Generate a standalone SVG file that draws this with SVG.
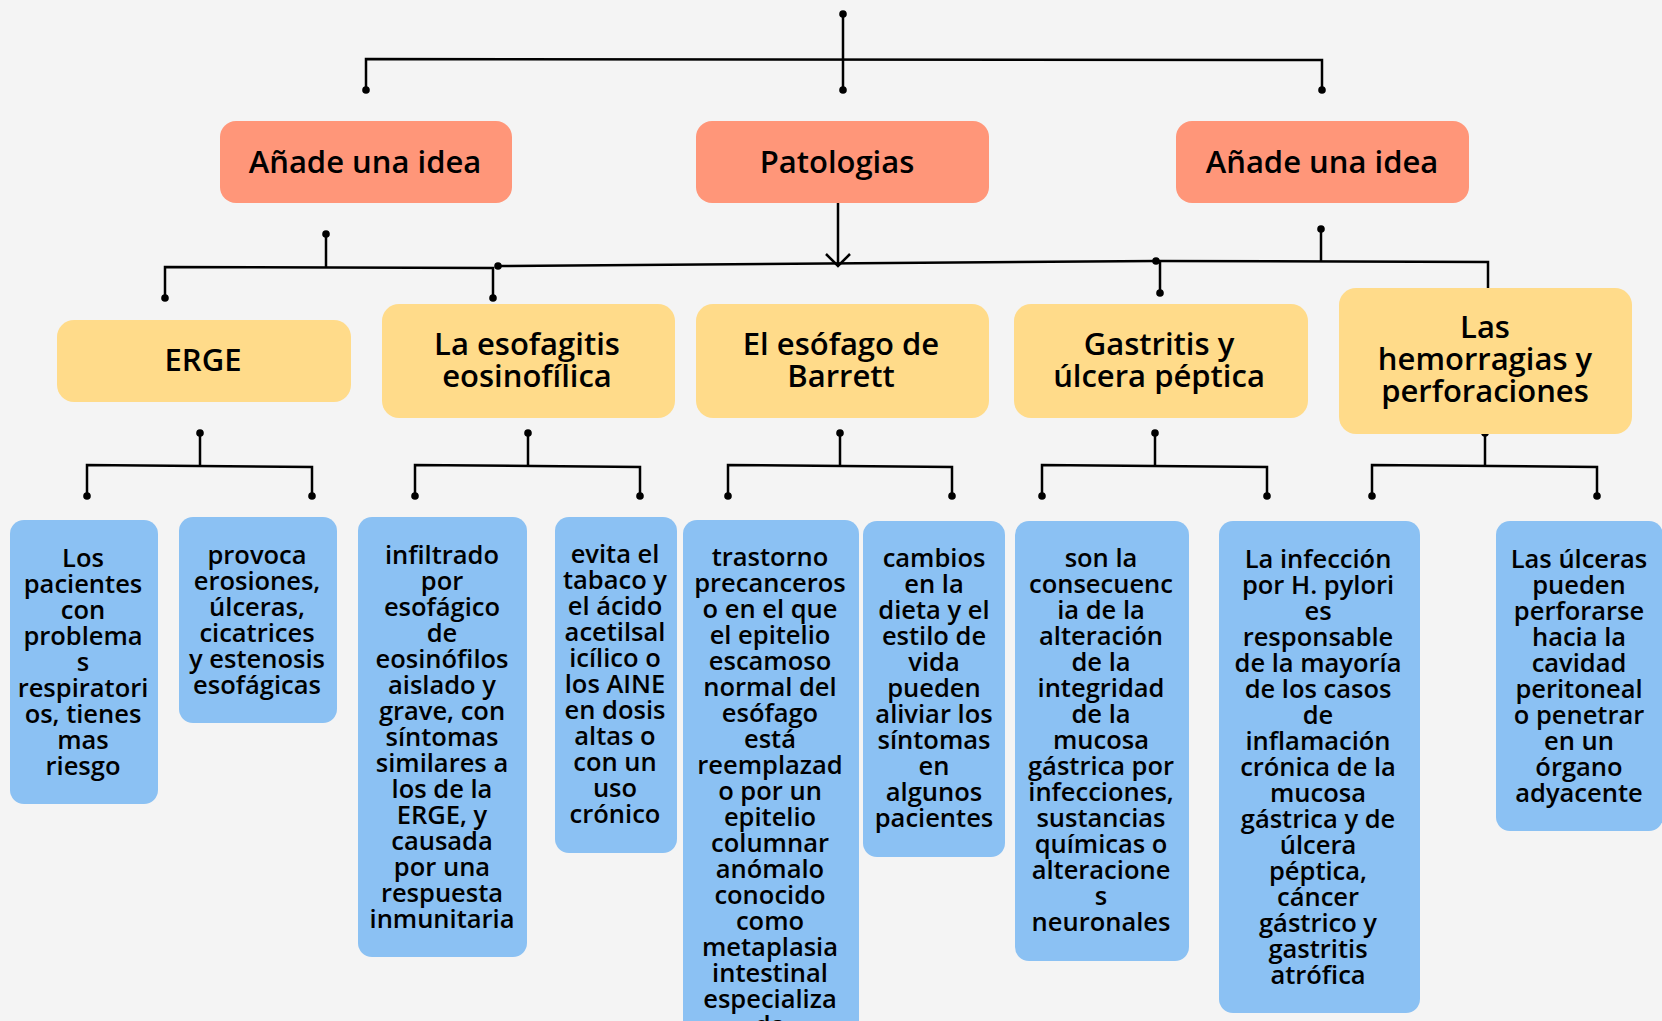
<svg xmlns="http://www.w3.org/2000/svg" width="1662" height="1021" viewBox="0 0 1662 1021">
<style>
.o{fill:#FF9679}
.y{fill:#FFDB8A}
.b{fill:#8BC1F3}
text{font-family:"Open Sans","Noto Sans",sans-serif;font-weight:600;fill:#000;text-anchor:middle}
.t1{font-size:31px}
.t3{font-size:25.5px}
.c{stroke:#000;stroke-width:2.5;fill:none;stroke-linejoin:miter}
.d{fill:#000}
</style>
<rect width="1662" height="1021" fill="#F4F4F4"/>
<g id="connectors">
<path class="c" d="M843,14 V90"/>
<path class="c" d="M366,90 V59 L1322,60 V90"/>
<path class="c" d="M326,234 V267"/>
<path class="c" d="M165,298 V267 L493,268 V298"/>
<path class="c" d="M838,203 V265"/>
<path class="c" d="M826,254 L838,266 L850,254"/>
<path class="c" d="M498,266 L1156,261"/>
<path class="c" d="M1321,229 V262"/>
<path class="c" d="M1156,261 L1488,262 V290"/>
<path class="c" d="M1160,262 V293"/>
<path class="c" d="M200,433 V466"/>
<path class="c" d="M87,496 V465 L312,467 V496"/>
<path class="c" d="M528,433 V466"/>
<path class="c" d="M415,496 V465 L640,467 V496"/>
<path class="c" d="M840,433 V466"/>
<path class="c" d="M728,496 V465 L952,467 V496"/>
<path class="c" d="M1155,433 V466"/>
<path class="c" d="M1042,496 V465 L1267,467 V496"/>
<path class="c" d="M1485,433 V466"/>
<path class="c" d="M1372,496 V465 L1597,467 V496"/>
<g class="d">
<circle cx="843" cy="14" r="3.8"/><circle cx="843" cy="90" r="3.8"/>
<circle cx="366" cy="90" r="3.8"/><circle cx="1322" cy="90" r="3.8"/>
<circle cx="326" cy="234" r="3.8"/><circle cx="165" cy="298" r="3.8"/><circle cx="493" cy="298" r="3.8"/>
<circle cx="498" cy="266" r="3.8"/><circle cx="1156" cy="261" r="3.8"/>
<circle cx="1321" cy="229" r="3.8"/><circle cx="1160" cy="293" r="3.8"/>
<circle cx="200" cy="433" r="3.8"/><circle cx="87" cy="496" r="3.8"/><circle cx="312" cy="496" r="3.8"/>
<circle cx="528" cy="433" r="3.8"/><circle cx="415" cy="496" r="3.8"/><circle cx="640" cy="496" r="3.8"/>
<circle cx="840" cy="433" r="3.8"/><circle cx="728" cy="496" r="3.8"/><circle cx="952" cy="496" r="3.8"/>
<circle cx="1155" cy="433" r="3.8"/><circle cx="1042" cy="496" r="3.8"/><circle cx="1267" cy="496" r="3.8"/>
<circle cx="1485" cy="433" r="3.8"/><circle cx="1372" cy="496" r="3.8"/><circle cx="1597" cy="496" r="3.8"/>
</g>
</g>
<g id="n-idea-left"><rect class="o" x="220" y="121" width="292" height="82" rx="16"/><text class="t1" x="365" y="173">Añade una idea</text></g>
<g id="n-patologias"><rect class="o" x="696" y="121" width="293" height="82" rx="16"/><text class="t1" x="837" y="173">Patologias</text></g>
<g id="n-idea-right"><rect class="o" x="1176" y="121" width="293" height="82" rx="16"/><text class="t1" x="1322" y="173">Añade una idea</text></g>
<g id="n-erge"><rect class="y" x="57" y="320" width="294" height="82" rx="17"/><text class="t1" x="203" y="371">ERGE</text></g>
<g id="n-esofagitis"><rect class="y" x="382" y="304" width="293" height="114" rx="17"/><text class="t1" x="527" y="355">La esofagitis<tspan x="527" dy="32">eosinofílica</tspan></text></g>
<g id="n-barrett"><rect class="y" x="696" y="304" width="293" height="114" rx="17"/><text class="t1" x="841" y="355">El esófago de<tspan x="841" dy="32">Barrett</tspan></text></g>
<g id="n-gastritis"><rect class="y" x="1014" y="304" width="294" height="114" rx="17"/><text class="t1" x="1159" y="355">Gastritis y<tspan x="1159" dy="32">úlcera péptica</tspan></text></g>
<g id="n-hemorragias"><rect class="y" x="1339" y="288" width="293" height="146" rx="17"/><text class="t1" x="1485" y="338">Las<tspan x="1485" dy="32">hemorragias y</tspan><tspan x="1485" dy="32">perforaciones</tspan></text></g>
<g id="n-b1"><rect class="b" x="10" y="520" width="148" height="284" rx="14"/><text class="t3" x="83" y="567">Los<tspan x="83" dy="26">pacientes</tspan><tspan x="83" dy="26">con</tspan><tspan x="83" dy="26">problema</tspan><tspan x="83" dy="26">s</tspan><tspan x="83" dy="26">respiratori</tspan><tspan x="83" dy="26">os, tienes</tspan><tspan x="83" dy="26">mas</tspan><tspan x="83" dy="26">riesgo</tspan></text></g>
<g id="n-b2"><rect class="b" x="179" y="517" width="158" height="206" rx="14"/><text class="t3" x="257" y="564">provoca<tspan x="257" dy="26">erosiones,</tspan><tspan x="257" dy="26">úlceras,</tspan><tspan x="257" dy="26">cicatrices</tspan><tspan x="257" dy="26">y estenosis</tspan><tspan x="257" dy="26">esofágicas</tspan></text></g>
<g id="n-b3"><rect class="b" x="358" y="517" width="169" height="440" rx="14"/><text class="t3" x="442" y="564">infiltrado<tspan x="442" dy="26">por</tspan><tspan x="442" dy="26">esofágico</tspan><tspan x="442" dy="26">de</tspan><tspan x="442" dy="26">eosinófilos</tspan><tspan x="442" dy="26">aislado y</tspan><tspan x="442" dy="26">grave, con</tspan><tspan x="442" dy="26">síntomas</tspan><tspan x="442" dy="26">similares a</tspan><tspan x="442" dy="26">los de la</tspan><tspan x="442" dy="26">ERGE, y</tspan><tspan x="442" dy="26">causada</tspan><tspan x="442" dy="26">por una</tspan><tspan x="442" dy="26">respuesta</tspan><tspan x="442" dy="26">inmunitaria</tspan></text></g>
<g id="n-b4"><rect class="b" x="555" y="517" width="122" height="336" rx="14"/><text class="t3" x="615" y="563">evita el<tspan x="615" dy="26">tabaco y</tspan><tspan x="615" dy="26">el ácido</tspan><tspan x="615" dy="26">acetilsal</tspan><tspan x="615" dy="26">icílico o</tspan><tspan x="615" dy="26">los AINE</tspan><tspan x="615" dy="26">en dosis</tspan><tspan x="615" dy="26">altas o</tspan><tspan x="615" dy="26">con un</tspan><tspan x="615" dy="26">uso</tspan><tspan x="615" dy="26">crónico</tspan></text></g>
<g id="n-b5"><rect class="b" x="683" y="520" width="176" height="530" rx="14"/><text class="t3" x="770" y="566">trastorno<tspan x="770" dy="26">precanceros</tspan><tspan x="770" dy="26">o en el que</tspan><tspan x="770" dy="26">el epitelio</tspan><tspan x="770" dy="26">escamoso</tspan><tspan x="770" dy="26">normal del</tspan><tspan x="770" dy="26">esófago</tspan><tspan x="770" dy="26">está</tspan><tspan x="770" dy="26">reemplazad</tspan><tspan x="770" dy="26">o por un</tspan><tspan x="770" dy="26">epitelio</tspan><tspan x="770" dy="26">columnar</tspan><tspan x="770" dy="26">anómalo</tspan><tspan x="770" dy="26">conocido</tspan><tspan x="770" dy="26">como</tspan><tspan x="770" dy="26">metaplasia</tspan><tspan x="770" dy="26">intestinal</tspan><tspan x="770" dy="26">especializa</tspan><tspan x="770" dy="26">da</tspan></text></g>
<g id="n-b6"><rect class="b" x="863" y="521" width="142" height="336" rx="14"/><text class="t3" x="934" y="567">cambios<tspan x="934" dy="26">en la</tspan><tspan x="934" dy="26">dieta y el</tspan><tspan x="934" dy="26">estilo de</tspan><tspan x="934" dy="26">vida</tspan><tspan x="934" dy="26">pueden</tspan><tspan x="934" dy="26">aliviar los</tspan><tspan x="934" dy="26">síntomas</tspan><tspan x="934" dy="26">en</tspan><tspan x="934" dy="26">algunos</tspan><tspan x="934" dy="26">pacientes</tspan></text></g>
<g id="n-b7"><rect class="b" x="1015" y="521" width="174" height="440" rx="14"/><text class="t3" x="1101" y="567">son la<tspan x="1101" dy="26">consecuenc</tspan><tspan x="1101" dy="26">ia de la</tspan><tspan x="1101" dy="26">alteración</tspan><tspan x="1101" dy="26">de la</tspan><tspan x="1101" dy="26">integridad</tspan><tspan x="1101" dy="26">de la</tspan><tspan x="1101" dy="26">mucosa</tspan><tspan x="1101" dy="26">gástrica por</tspan><tspan x="1101" dy="26">infecciones,</tspan><tspan x="1101" dy="26">sustancias</tspan><tspan x="1101" dy="26">químicas o</tspan><tspan x="1101" dy="26">alteracione</tspan><tspan x="1101" dy="26">s</tspan><tspan x="1101" dy="26">neuronales</tspan></text></g>
<g id="n-b8"><rect class="b" x="1219" y="521" width="201" height="492" rx="14"/><text class="t3" x="1318" y="568">La infección<tspan x="1318" dy="26">por H. pylori</tspan><tspan x="1318" dy="26">es</tspan><tspan x="1318" dy="26">responsable</tspan><tspan x="1318" dy="26">de la mayoría</tspan><tspan x="1318" dy="26">de los casos</tspan><tspan x="1318" dy="26">de</tspan><tspan x="1318" dy="26">inflamación</tspan><tspan x="1318" dy="26">crónica de la</tspan><tspan x="1318" dy="26">mucosa</tspan><tspan x="1318" dy="26">gástrica y de</tspan><tspan x="1318" dy="26">úlcera</tspan><tspan x="1318" dy="26">péptica,</tspan><tspan x="1318" dy="26">cáncer</tspan><tspan x="1318" dy="26">gástrico y</tspan><tspan x="1318" dy="26">gastritis</tspan><tspan x="1318" dy="26">atrófica</tspan></text></g>
<g id="n-b9"><rect class="b" x="1496" y="521" width="167" height="310" rx="14"/><text class="t3" x="1579" y="568">Las úlceras<tspan x="1579" dy="26">pueden</tspan><tspan x="1579" dy="26">perforarse</tspan><tspan x="1579" dy="26">hacia la</tspan><tspan x="1579" dy="26">cavidad</tspan><tspan x="1579" dy="26">peritoneal</tspan><tspan x="1579" dy="26">o penetrar</tspan><tspan x="1579" dy="26">en un</tspan><tspan x="1579" dy="26">órgano</tspan><tspan x="1579" dy="26">adyacente</tspan></text></g>
</svg>
